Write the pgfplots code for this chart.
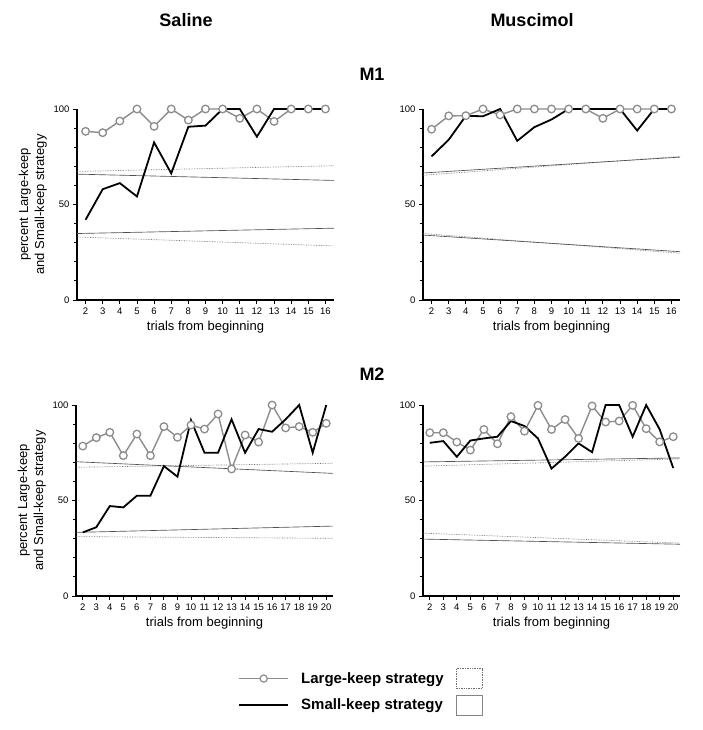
\documentclass[border=0pt]{standalone}
\usepackage{fontspec}
\setmainfont{Liberation Sans}
\usepackage{pgfplots}
\pgfplotsset{compat=1.18}

\definecolor{lkgray}{RGB}{140,140,140}
\definecolor{regcol}{RGB}{80,80,80}
\definecolor{regdot}{RGB}{110,110,110}

\pgfplotsset{
  panel/.style={
    scale only axis, width=257pt, height=191pt,
    xmin=1.5, ymin=0, ymax=100,
    axis x line*=bottom, axis y line*=left,
    axis line style={line width=1.6pt},
    every tick/.style={black, line width=0.9pt},
    tick align=outside, major tick length=4pt, minor tick length=3pt,
    ytick={0,50,100}, minor ytick={10,20,30,40,60,70,80,90},
    tick label style={font=\fontsize{9.5}{10}\selectfont},
    /pgf/number format/assume math mode=true,
    xlabel={trials from beginning},
    xlabel style={font=\fontsize{13}{14}\selectfont},
    clip=false,
  },
  leftpanel/.style={
    ylabel={percent Large-keep\\and Small-keep strategy},
    ylabel style={align=center, font=\fontsize{13}{16}\selectfont},
  },
  lk/.style={lkgray, line width=1.4pt, mark=*, mark size=3.8pt,
    mark options={fill=white, draw=lkgray, line width=1.3pt}},
  sk/.style={black, line width=1.8pt, no marks},
  regs/.style={regcol, line width=0.65pt, no marks},
  regd/.style={regdot, line width=0.65pt, densely dotted, no marks},
}

\begin{document}
\begin{tikzpicture}
\path[use as bounding box] (0pt,0pt) rectangle (703pt,-730pt);

\node[font=\fontsize{18}{20}\selectfont\bfseries] at (186pt,-20pt) {Saline};
\node[font=\fontsize{18}{20}\selectfont\bfseries] at (532pt,-20pt) {Muscimol};
\node[font=\fontsize{18}{20}\selectfont\bfseries] at (372pt,-74pt) {M1};
\node[font=\fontsize{18}{20}\selectfont\bfseries] at (372pt,-374pt) {M2};

% M1 saline
\begin{axis}[panel, leftpanel, xmax=16.5, xtick={2,...,16},
  at={(77pt,-300pt)}, anchor=south west]
\addplot[regd] coordinates {(1.5,67.3) (16.5,70.3)};
\addplot[regd] coordinates {(1.5,33.0) (16.5,28.3)};
\addplot[regs] coordinates {(1.5,65.9) (16.5,62.6)};
\addplot[regs] coordinates {(1.5,34.8) (16.5,37.6)};
\addplot[lk] coordinates {
  (2,88.3) (3,87.6) (4,93.7) (5,100) (6,90.9) (7,100) (8,94.2) (9,100)
  (10,100) (11,95.1) (12,100) (13,93.5) (14,100) (15,100) (16,100)};
\addplot[sk] coordinates {
  (2,42) (3,58) (4,61.2) (5,54.2) (6,82.5) (7,66.3) (8,90.7) (9,91.3)
  (10,100) (11,100) (12,85.5) (13,100) (14,100) (15,100) (16,100)};
\end{axis}

% M1 muscimol
\begin{axis}[panel, xmax=16.5, xtick={2,...,16},
  at={(423pt,-300pt)}, anchor=south west]
\addplot[regd] coordinates {(1.5,65.3) (16.5,75.2)};
\addplot[regd] coordinates {(1.5,34.8) (16.5,24.5)};
\addplot[regs] coordinates {(1.5,66.5) (16.5,74.8)};
\addplot[regs] coordinates {(1.5,34.0) (16.5,25.3)};
\addplot[lk] coordinates {
  (2,89.4) (3,96.4) (4,96.5) (5,100) (6,96.9) (7,100) (8,100) (9,100)
  (10,100) (11,100) (12,95.1) (13,100) (14,100) (15,100) (16,100)};
\addplot[sk] coordinates {
  (2,75.2) (3,83.9) (4,96.4) (5,96.2) (6,100) (7,83.3) (8,90.5) (9,94.5)
  (10,100) (11,100) (12,100) (13,100) (14,88.7) (15,100) (16,100)};
\end{axis}

% M2 saline
\begin{axis}[panel, leftpanel, xmax=20.5, xtick={2,...,20},
  at={(76pt,-596pt)}, anchor=south west]
\addplot[regd] coordinates {(1.5,67.4) (20.5,69.5)};
\addplot[regd] coordinates {(1.5,31.1) (20.5,30.2)};
\addplot[regs] coordinates {(1.5,70.3) (20.5,64.2)};
\addplot[regs] coordinates {(1.5,33.3) (20.5,36.6)};
\addplot[lk] coordinates {
  (2,78.5) (3,82.9) (4,85.7) (5,73.5) (6,84.8) (7,73.5) (8,88.7) (9,83.1)
  (10,89.5) (11,87.4) (12,95.3) (13,66.5) (14,84.3) (15,80.6) (16,100)
  (17,88) (18,88.7) (19,85.7) (20,90.4)};
\addplot[sk] coordinates {
  (2,33.3) (3,36) (4,47.1) (5,46.4) (6,52.5) (7,52.5) (8,68) (9,62.5)
  (10,92.1) (11,75) (12,75) (13,92.5) (14,75) (15,87.4) (16,86)
  (17,92.5) (18,100) (19,75) (20,100)};
\end{axis}

% M2 muscimol
\begin{axis}[panel, xmax=20.5, xtick={2,...,20},
  at={(423pt,-596pt)}, anchor=south west]
\addplot[regd] coordinates {(1.5,68.0) (20.5,71.8)};
\addplot[regd] coordinates {(1.5,32.9) (20.5,27.7)};
\addplot[regs] coordinates {(1.5,70.2) (20.5,72.3)};
\addplot[regs] coordinates {(1.5,29.8) (20.5,27.1)};
\addplot[lk] coordinates {
  (2,85.5) (3,85.5) (4,80.6) (5,76.4) (6,87.2) (7,79.7) (8,93.9) (9,86.3)
  (10,99.8) (11,87.2) (12,92.4) (13,82.5) (14,99.5) (15,91.1) (16,91.6)
  (17,99.8) (18,87.6) (19,80.7) (20,83.4)};
\addplot[sk] coordinates {
  (2,80.2) (3,81.1) (4,72.9) (5,81.4) (6,82.5) (7,83.4) (8,91.6) (9,89)
  (10,82.5) (11,66.7) (12,72.9) (13,79.9) (14,75.3) (15,100) (16,100)
  (17,83.4) (18,100) (19,87.2) (20,67)};
\end{axis}

% legend
\begin{axis}[hide axis, scale only axis, width=244pt, height=48pt,
  xmin=0, xmax=1, ymin=0, ymax=1,
  at={(238pt,-716pt)}, anchor=south west,
  legend columns=2, legend cell align=left,
  legend style={at={(0,1)}, anchor=north west, draw=none, fill=none,
    inner sep=0pt, column sep=10pt, row sep=6pt,
    font=\fontsize{15}{16}\selectfont\bfseries}]
\addlegendimage{legend image code/.code={
  \draw[lkgray, line width=1.1pt] (0pt,0pt) -- (49pt,0pt);
  \draw[lkgray, line width=1.2pt, fill=white] (24.5pt,0pt) circle (3.6pt);}}
\addlegendentry{Large-keep strategy}
\addlegendimage{legend image code/.code={
  \draw[regdot, densely dotted, line width=0.7pt] (0pt,-10pt) rectangle (26pt,10pt);}}
\addlegendentry{}
\addlegendimage{legend image code/.code={
  \draw[black, line width=2pt] (0pt,0pt) -- (49pt,0pt);}}
\addlegendentry{Small-keep strategy}
\addlegendimage{legend image code/.code={
  \draw[regcol!70, line width=0.7pt] (0pt,-10pt) rectangle (26pt,10pt);}}
\addlegendentry{}
\end{axis}
\end{tikzpicture}
\end{document}
